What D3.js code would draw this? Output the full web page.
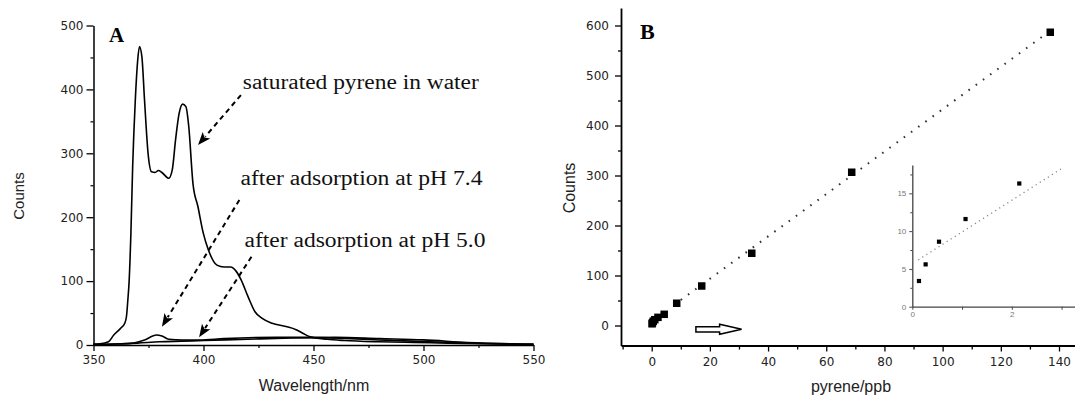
<!DOCTYPE html>
<html><head><meta charset="utf-8">
<script src="https://cdn.jsdelivr.net/npm/d3@7"></script>
<style>body{margin:0;background:#fff} svg{display:block}</style>
</head><body><svg id="c" width="1075" height="400"></svg>
<script>
// ---------- Panel A data ----------
const satWavelength = [350,353,356.8,359.2,362.3,364.2,365.0,365.6,366.2,367.0,367.8,369.0,370.1,370.9,372.0,373.2,374.8,376.4,378.0,379.5,381.1,384.2,385.8,387.3,388.9,390.5,392.0,393.3,395.2,397.5,399.9,402.2,406.1,409.3,412.4,414.7,417.1,420.2,423.4,426.5,431.2,437.5,442.1,445.3,448.4,456.2,464.0,479.7,495.4,511,526.7,550];
const satCounts     = [1.5,2,5,15.6,26,34,45,70,100,175,279,383,446,467,451,383,300,271,270,273,270,261,274,321,362,377,373,342,253,216,175,149,125,122,122,116,102,76,52,42,34,29,24,18,13,9,7,5,4,3,2,1];
const ph74Wavelength = [350,360,367,373.2,378.6,381.1,384.2,390.5,398.3,409.3,432.8,448.4,464,479.7,503,526.7,550];
const ph74Counts     = [1,1.5,2.6,7.8,15.6,14,9,7.8,7.8,10,12,12,10.4,7.8,5.2,2.6,1];
const ph50Wavelength = [350,360,370,380,390,400,420,440,460,480,500,520,550];
const ph50Counts     = [0.5,1.5,3,5,6,7,9,11,12,10,8,4,1];
const xTicksA = [350,400,450,500,550];
const xMinorA = [375,425,475,525];
const yTicksA = [0,100,200,300,400,500];
const yMinorA = [50,150,250,350,450];
const labelsA = ["saturated pyrene in water","after adsorption at pH 7.4","after adsorption at pH 5.0"];

// ---------- Panel B data ----------
const concentration = [0.134,0.268,0.537,1.07,2.15,4.3,8.6,17.2,34.4,68.75,137];
const countsB       = [3.4,5.6,8.6,11.6,16.3,22.4,44.5,79,144.5,306.5,586.5];
const fitX = [10,135.5], fitY = [51,583];
const insetConc = [0.134,0.268,0.537,1.07,2.15];
const insetCounts = [3.4,5.6,8.6,11.6,16.3];
const insetFitX = [0.12,3.03], insetFitY = [6.2,18.4];
const xTicksB = [0,20,40,60,80,100,120,140];
const xMinorB = [-10,10,30,50,70,90,110,130];
const yTicksB = [0,100,200,300,400,500,600];
const yMinorB = [50,150,250,350,450,550];
const insetXTicks = [0,2], insetXMinor = [1,3];
const insetYTicks = [0,5,10,15], insetYMinor = [2.5,7.5,12.5,17.5];

const svg = d3.select("#c");
const SANS = "'Liberation Sans', Arial, sans-serif";
const TICKF = "'DejaVu Sans', sans-serif";
const SERIF = "'Liberation Serif', 'Times New Roman', serif";

function styleAxis(g, w){
  g.select(".domain").attr("stroke","#000").attr("stroke-width",w);
  g.selectAll(".tick line").attr("stroke","#000").attr("stroke-width",1.3);
  g.selectAll(".tick text").attr("font-family",TICKF).attr("font-size",12).attr("fill","#222");
}

// ================= Panel A =================
const xA = d3.scaleLinear().domain([350,550]).range([93.5,533.5]);
const yA = d3.scaleLinear().domain([0,500]).range([345,25.5]);

const gxA = svg.append("g").attr("transform",`translate(0,${yA(0)})`)
  .call(d3.axisBottom(xA).tickValues(xTicksA).tickSize(6).tickSizeOuter(0).tickPadding(4).tickFormat(d3.format("d")));
styleAxis(gxA,1.5);
svg.append("g").attr("transform",`translate(0,${yA(0)})`)
  .call(d3.axisBottom(xA).tickValues(xMinorA).tickSize(3).tickSizeOuter(0).tickFormat(""))
  .call(g=>{g.select(".domain").remove(); g.selectAll("line").attr("stroke","#000").attr("stroke-width",1.2);});
const gyA = svg.append("g").attr("transform",`translate(${xA(350)},0)`)
  .call(d3.axisLeft(yA).tickValues(yTicksA).tickSize(7).tickSizeOuter(0).tickPadding(3));
styleAxis(gyA,1.5);
svg.append("g").attr("transform",`translate(${xA(350)},0)`)
  .call(d3.axisLeft(yA).tickValues(yMinorA).tickSize(3).tickSizeOuter(0).tickFormat(""))
  .call(g=>{g.select(".domain").remove(); g.selectAll("line").attr("stroke","#000").attr("stroke-width",1.2);});

svg.append("text").attr("x",314).attr("y",391).attr("text-anchor","middle")
  .attr("font-family",SANS).attr("font-size",16).attr("fill","#222").text("Wavelength/nm");
svg.append("text").attr("transform","translate(24,196) rotate(-90)").attr("text-anchor","middle")
  .attr("font-family",SANS).attr("font-size",15).attr("fill","#222").text("Counts");
svg.append("text").attr("x",109).attr("y",41.7).attr("font-family",SERIF).attr("font-weight","bold")
  .attr("font-size",21).text("A");

const lineA = (xs,ys)=>d3.line().x((d,i)=>xA(xs[i])).y((d,i)=>yA(ys[i])).curve(d3.curveMonotoneX)(xs);
[[ph50Wavelength,ph50Counts],[ph74Wavelength,ph74Counts],[satWavelength,satCounts]].forEach(([xs,ys])=>{
  svg.append("path").attr("d",lineA(xs,ys)).attr("fill","none").attr("stroke","#000")
    .attr("stroke-width",1.6).attr("stroke-linejoin","round");
});

// annotations
const annPos = [{x:242.8,y:89,len:236},{x:240.5,y:185,len:242},{x:244.5,y:246.7,len:241}];
labelsA.forEach((t,i)=>{
  svg.append("text").attr("x",annPos[i].x).attr("y",annPos[i].y)
    .attr("font-family",SERIF).attr("font-size",20.5).attr("fill","#111")
    .attr("textLength",annPos[i].len).attr("lengthAdjust","spacingAndGlyphs").text(t);
});
// arrows in data coordinates
const arrowsA = [
  {from:[417,391], to:[397.5,313]},
  {from:[416.3,227], to:[381.1,28.6]},
  {from:[421.8,138], to:[398,12]}
];
arrowsA.forEach(a=>{
  const x1=xA(a.from[0]), y1=yA(a.from[1]), x2=xA(a.to[0]), y2=yA(a.to[1]);
  const dx=x2-x1, dy=y2-y1, L=Math.hypot(dx,dy), ux=dx/L, uy=dy/L;
  const hl=13, hw=5;
  const bx=x2-ux*hl, by=y2-uy*hl;
  svg.append("line").attr("x1",x1).attr("y1",y1).attr("x2",bx+ux*2).attr("y2",by+uy*2)
    .attr("stroke","#000").attr("stroke-width",2).attr("stroke-dasharray","5,4");
  svg.append("path").attr("d",`M${x2},${y2}L${bx-uy*hw},${by+ux*hw}L${bx+ux*3},${by+uy*3}L${bx+uy*hw},${by-ux*hw}Z`)
    .attr("fill","#000");
});

// ================= Panel B =================
const xB = d3.scaleLinear().domain([-10.55,145.5]).range([621,1075]);
const yB = d3.scaleLinear().domain([-40,635]).range([345.5,8]);

const gxB = svg.append("g").attr("transform",`translate(0,${yB(-40)})`)
  .call(d3.axisBottom(xB).tickValues(xTicksB).tickSize(6).tickSizeOuter(0).tickPadding(6));
styleAxis(gxB,1.8);
svg.append("g").attr("transform",`translate(0,${yB(-40)})`)
  .call(d3.axisBottom(xB).tickValues(xMinorB).tickSize(4).tickSizeOuter(0).tickFormat(""))
  .call(g=>{g.select(".domain").remove(); g.selectAll("line").attr("stroke","#000").attr("stroke-width",1.3);});
const gyB = svg.append("g").attr("transform",`translate(${xB(-10.55)},0)`)
  .call(d3.axisLeft(yB).tickValues(yTicksB).tickSize(6).tickSizeOuter(0).tickPadding(6));
styleAxis(gyB,1.8);
svg.append("g").attr("transform",`translate(${xB(-10.55)},0)`)
  .call(d3.axisLeft(yB).tickValues(yMinorB).tickSize(3).tickSizeOuter(0).tickFormat(""))
  .call(g=>{g.select(".domain").remove(); g.selectAll("line").attr("stroke","#000").attr("stroke-width",1.3);});

svg.append("text").attr("x",851).attr("y",392).attr("text-anchor","middle")
  .attr("font-family",SANS).attr("font-size",16).attr("fill","#222").text("pyrene/ppb");
svg.append("text").attr("transform","translate(575,188) rotate(-90)").attr("text-anchor","middle")
  .attr("font-family",SANS).attr("font-size",16).attr("fill","#222").text("Counts");
svg.append("text").attr("x",640).attr("y",39).attr("font-family",SERIF).attr("font-weight","bold")
  .attr("font-size",22).text("B");

// fit line (dotted)
svg.append("line").attr("x1",xB(fitX[0])).attr("y1",yB(fitY[0])).attr("x2",xB(fitX[1])).attr("y2",yB(fitY[1]))
  .attr("stroke","#333").attr("stroke-width",2).attr("stroke-dasharray","1.6,7.3");
// squares
const sq=7.5;
svg.append("g").selectAll("rect").data(concentration).join("rect")
  .attr("x",(d)=>xB(d)-sq/2).attr("y",(d,i)=>yB(countsB[i])-sq/2)
  .attr("width",sq).attr("height",sq).attr("fill","#000");

// open arrow in panel B (annotation, data coords)
const oa = {x0:15.2, x1:30.9, y:-7.6};
{
  const x0=xB(oa.x0), x1=xB(oa.x1), yc=yB(oa.y), hs=22, sh=2.6, hh=5;
  svg.append("path").attr("d",
    `M${x0},${yc-sh}L${x1-hs},${yc-sh}L${x1-hs},${yc-hh}L${x1},${yc}L${x1-hs},${yc+hh}L${x1-hs},${yc+sh}L${x0},${yc+sh}Z`)
    .attr("fill","#fff").attr("stroke","#000").attr("stroke-width",1.5).attr("stroke-linejoin","miter");
}

// ---- inset ----
const xI = d3.scaleLinear().domain([0,3.27]).range([912.3,1075]);
const yI = d3.scaleLinear().domain([0,18.75]).range([306.7,165]);
function styleInset(g){
  g.select(".domain").attr("stroke","#444").attr("stroke-width",1.3);
  g.selectAll(".tick line").attr("stroke","#444").attr("stroke-width",1);
  g.selectAll(".tick text").attr("font-family",SANS).attr("font-size",8).attr("fill","#777");
}
svg.append("g").attr("transform",`translate(0,${yI(0)})`)
  .call(d3.axisBottom(xI).tickValues(insetXTicks).tickSize(3).tickSizeOuter(0).tickPadding(2).tickFormat(d3.format("d"))).call(styleInset);
svg.append("g").attr("transform",`translate(0,${yI(0)})`)
  .call(d3.axisBottom(xI).tickValues(insetXMinor).tickSize(3).tickSizeOuter(0).tickFormat(""))
  .call(g=>{g.select(".domain").remove(); g.selectAll("line").attr("stroke","#444");});
svg.append("g").attr("transform",`translate(${xI(0)},0)`)
  .call(d3.axisLeft(yI).tickValues(insetYTicks).tickSize(3).tickSizeOuter(0).tickPadding(3).tickFormat(d3.format("d"))).call(styleInset);
svg.append("g").attr("transform",`translate(${xI(0)},0)`)
  .call(d3.axisLeft(yI).tickValues(insetYMinor).tickSize(2).tickSizeOuter(0).tickFormat(""))
  .call(g=>{g.select(".domain").remove(); g.selectAll("line").attr("stroke","#444");});
svg.append("line").attr("x1",xI(insetFitX[0])).attr("y1",yI(insetFitY[0])).attr("x2",xI(insetFitX[1])).attr("y2",yI(insetFitY[1]))
  .attr("stroke","#888").attr("stroke-width",1.3).attr("stroke-dasharray","1.2,3.6");
const isq=4.2;
svg.append("g").selectAll("rect").data(insetConc).join("rect")
  .attr("x",d=>xI(d)-isq/2).attr("y",(d,i)=>yI(insetCounts[i])-isq/2)
  .attr("width",isq).attr("height",isq).attr("fill","#000");
</script>
</body></html>
